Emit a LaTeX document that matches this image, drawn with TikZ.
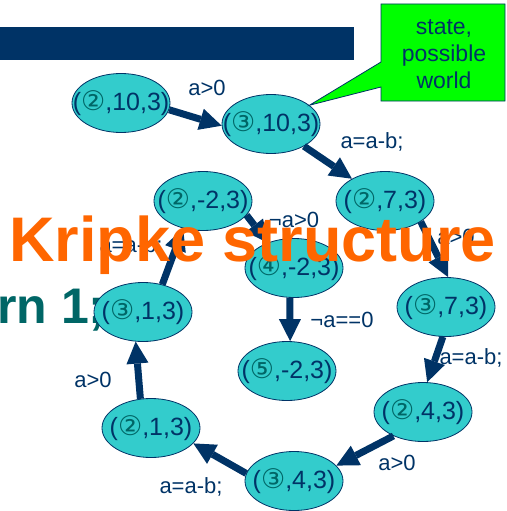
\documentclass[tikz,border=0pt]{standalone}
\usepackage{fontspec}
\setmainfont{Liberation Sans}
\newfontfamily\circfont{DejaVu Sans}
\usepackage{tikz}
\usetikzlibrary{arrows.meta,shapes.geometric}
\definecolor{navy}{HTML}{003366}
\definecolor{cyanfill}{HTML}{33CCCC}
\definecolor{korange}{HTML}{FF6600}
\definecolor{tealtxt}{HTML}{006666}
\definecolor{callgreen}{HTML}{00FF00}
\newcommand{\kst}[2]{\makebox[0pt]{(\textcolor{tealtxt}{\circfont\fontsize{27}{30}\selectfont #1}#2)}}
\tikzset{
  kstate/.style={ellipse,draw=navy,line width=0.8pt,fill=cyanfill,
    minimum width=98pt,minimum height=59pt,inner sep=0pt,text=navy,
    font=\fontsize{25}{29}\selectfont},
  trans/.style={draw=navy,line width=7pt,
    -{Triangle[length=22pt,width=22pt,line width=0pt]}},
  tlabel/.style={text=navy,inner sep=0pt,font=\fontsize{22}{26}\selectfont}
}

\begin{document}
\begin{tikzpicture}[x=1pt,y=-1pt]
\useasboundingbox (0,0) rectangle (506,511);
\fill[navy] (0,27) rectangle (354,60);
\node[anchor=base west,inner sep=0pt,text=tealtxt,
  font=\bfseries\fontsize{50}{56}\selectfont] (code) at (-3,323) {rn 1;};
% states
\foreach \nm/\px/\py/\dg/\rest in {%
  n2x10/121/103/②/{,10,3}, n3x10/271/124/③/{,10,3},
  n2x7/385/201/②/{,7,3}, n3x7/446/307/③/{,7,3},
  n2x4/423/412/②/{,4,3}, n3x4/294/481/③/{,4,3},
  n2x1/151/428/②/{,1,3}, n3x1/143/312/③/{,1,3},
  n2m2/203/201/②/{,-2,3}, n4m2/294/268/④/{,-2,3},
  n5m2/287/371/⑤/{,-2,3}}
  \node[kstate] (\nm) at (\px,\py) {\kst{\dg}{\rest}};
% callout
\coordinate (calltip) at (n3x10.26);
\filldraw[fill=callgreen,draw=navy,line width=0.8pt] (381,4) -- (505,4) -- (505,101)
  -- (381,101) -- (381,87) -- (calltip) -- (381,62) -- cycle;
\node[text=navy,align=center,font=\fontsize{23}{27}\selectfont] (calltext) at (444,54)
  {state,\\possible\\world};
% transitions
\foreach \a/\aa/\b/\bb in {%
  n2x10/-8/n3x10/182, n3x10/-34/n2x7/146, n2x7/-30/n3x7/86,
  n3x7/-96/n2x4/82, n2x4/-141/n3x4/20, n3x4/171/n2x1/-20,
  n2x1/110/n3x1/-104, n3x1/55/n2m2/-126, n2m2/-18/n4m2/136,
  n4m2/-98/n5m2/84}
  \draw[trans] (\a.\aa) -- (\b.\bb);
\foreach \px/\py/\txt [count=\i] in {%
  207/88/{a>0}, 372/142/{a=a-b;}, 456/237/{a>0}, 471/358/{a=a-b;},
  397/463/{a>0}, 191/487/{a=a-b;}, 93/380/{a>0}, 131/246/{a=a-b;},
  294/220/{¬a>0}, 342/320/{¬a==0}}
  \node[tlabel] (lbl\i) at (\px,\py) {\txt};
\node[anchor=base west,inner sep=0pt,text=korange,
  font=\bfseries\fontsize{63}{70}\selectfont] (title) at (9,261) {Kripke structure};
\end{tikzpicture}
\end{document}
